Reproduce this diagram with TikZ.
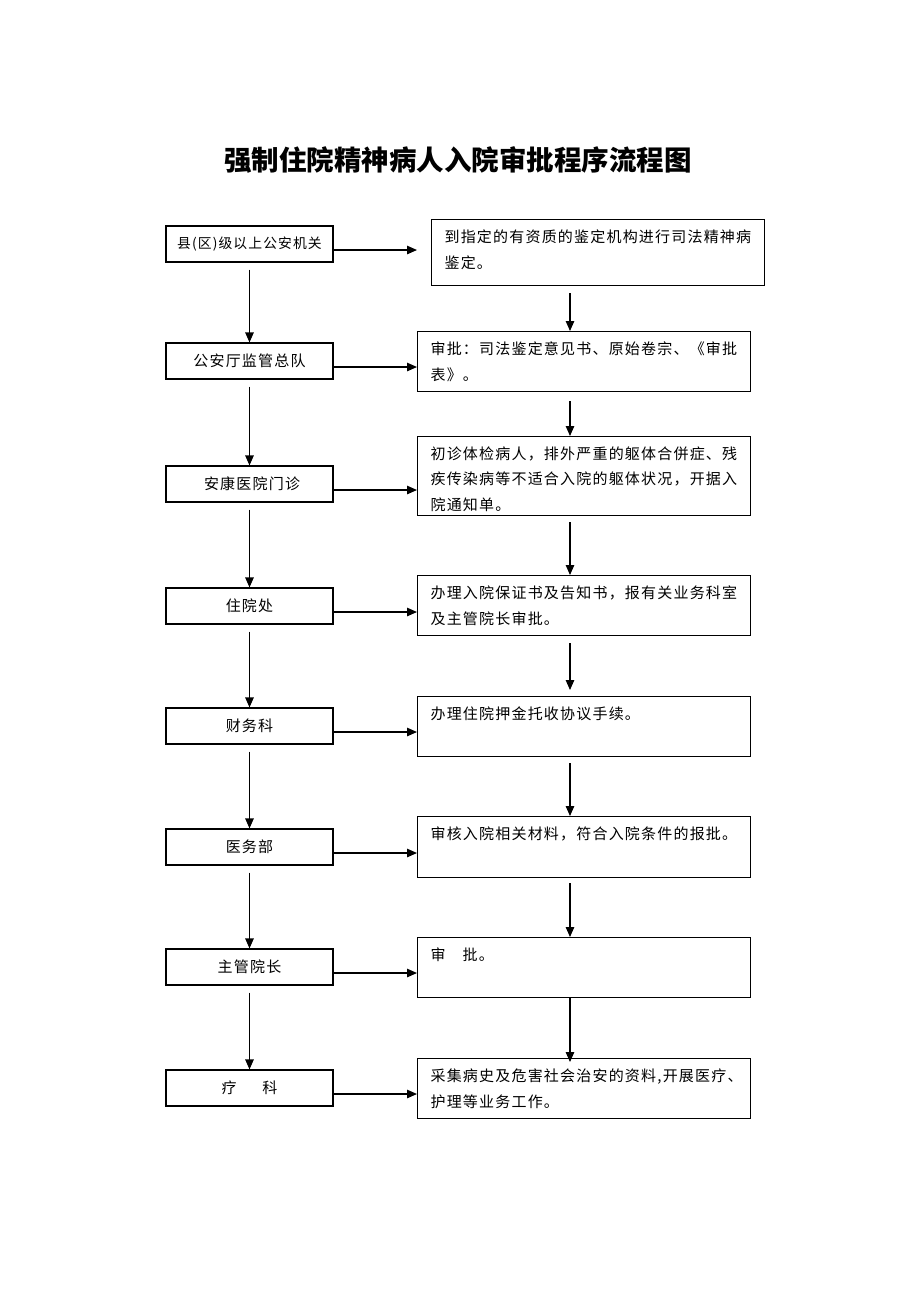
\documentclass[tikz,border=0pt]{standalone}
\usepackage{fontspec}
\setmainfont{Noto Sans CJK SC}[LetterSpace=8]
\newfontfamily\titlefont{Noto Sans CJK SC}
\usetikzlibrary{arrows.meta,calc}
\newcommand\rbtext[3]{\parbox[b][#2][t]{#1}{\rule{0pt}{22.5pt}#3}}
\tikzset{
  lbox/.style={draw, line width=1.2pt, minimum width=167pt, minimum height=36pt, inner sep=0pt,
    font=\fontsize{15pt}{18pt}\selectfont},
  rbox/.style={draw, line width=1.2pt, anchor=north west, inner xsep=13pt, inner ysep=0pt,
    font=\fontsize{15pt}{26.5pt}\selectfont},
  arr/.style={line width=1.2pt, -{Triangle[length=10pt,width=8.5pt]}},
  titlestyle/.style={font=\titlefont\fontsize{27.5pt}{30pt}\selectfont\bfseries, inner sep=0pt}
}
\begin{document}
\begin{tikzpicture}[x=1pt,y=-1pt]
\useasboundingbox (0,0) rectangle (920,1302);
\node[titlestyle] (title) at (458,160) {强制住院精神病人入院审批程序流程图};

\node[lbox, font=\fontsize{13.8pt}{16pt}\selectfont] (L1) at (249.5,244) {县(区)级以上公安机关};
\node[lbox] (L2) at (249.5,361) {公安厅监管总队};
\node[lbox] (L3) at (249.5,484) {\hspace{5pt}安康医院门诊};
\node[lbox] (L4) at (249.5,606) {住院处};
\node[lbox] (L5) at (249.5,726) {财务科};
\node[lbox] (L6) at (249.5,847) {医务部};
\node[lbox] (L7) at (249.5,967) {主管院长};
\node[lbox] (L8) at (249.5,1088) {疗\hspace{26pt}科};

\node[rbox] (R1) at (431,219) {\rbtext{307pt}{66pt}{到指定的有资质的鉴定机构进行司法精神病\\鉴定。}};
\node[rbox] (R2) at (417,331) {\rbtext{307pt}{60pt}{审批：司法鉴定意见书、原始卷宗、《审批\\表》。}};
\node[rbox, font=\fontsize{15pt}{25.5pt}\selectfont] (R3) at (417,436) {\rbtext{307pt}{79pt}{初诊体检病人，排外严重的躯体合併症、残\\疾传染病等不适合入院的躯体状况，开据入\\院通知单。}};
\node[rbox] (R4) at (417,575) {\rbtext{307pt}{60pt}{办理入院保证书及告知书，报有关业务科室\\及主管院长审批。}};
\node[rbox] (R5) at (417,696) {\rbtext{307pt}{60pt}{办理住院押金托收协议手续。}};
\node[rbox] (R6) at (417,816) {\rbtext{307pt}{61pt}{审核入院相关材料，符合入院条件的报批。}};
\node[rbox] (R7) at (417,937) {\rbtext{307pt}{60pt}{审\hspace{17pt}批。}};
\node[rbox] (R8) at (417,1058) {\rbtext{307pt}{60pt}{采集病史及危害社会治安的资料,开展医疗、\\护理等业务工作。}};

% horizontal arrows
\foreach \i in {1,...,8}{
  \coordinate (h\i) at ($(L\i.east)+(0,6)$);
}
\draw[arr, shorten >=14pt] (h1) -- (h1 -| R1.west);
\foreach \i in {2,...,8}{
  \draw[arr] (h\i) -- (h\i -| R\i.west);
}

% left vertical arrows
\foreach \i/\j in {1/2,2/3,3/4,4/5,5/6,6/7,7/8}{
  \draw[arr, shorten <=7pt] (L\i.south) -- (L\j.north);
}

% right vertical arrows
\coordinate (vx) at (570,0);
\draw[arr, shorten <=7pt] (R1.south -| vx) -- (R2.north -| vx);
\draw[arr, shorten <=9pt] (R2.south -| vx) -- (R3.north -| vx);
\draw[arr, shorten <=6pt] (R3.south -| vx) -- (R4.north -| vx);
\draw[arr, shorten <=7pt, shorten >=6pt] (R4.south -| vx) -- (R5.north -| vx);
\draw[arr, shorten <=6pt] (R5.south -| vx) -- (R6.north -| vx);
\draw[arr, shorten <=5pt] (R6.south -| vx) -- (R7.north -| vx);
\draw[arr, shorten >=-4pt] (R7.south -| vx) -- (R8.north -| vx);
\end{tikzpicture}
\end{document}
